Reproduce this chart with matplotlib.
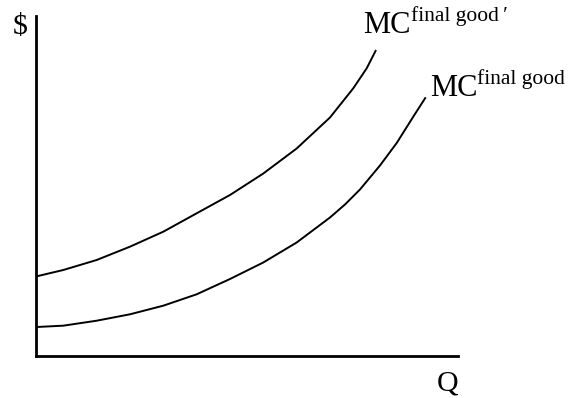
import matplotlib
matplotlib.use('Agg')
import matplotlib.pyplot as plt

# curve points (axes units 0-100)
q_upper = [0.05, 6.36, 14.28, 22.18, 30.08, 38.01, 45.91, 53.81, 61.73, 69.63, 75.16, 78.34, 80.55]
mc_upper = [23.55, 25.40, 28.34, 32.25, 36.65, 42.06, 47.43, 53.74, 61.09, 70.19, 78.77, 84.64, 90.01]

q_lower = [0.05, 6.36, 14.28, 22.18, 30.08, 38.01, 45.91, 53.81, 61.73, 69.63, 73.19, 76.75, 81.49, 85.46, 89.39, 92.34]
mc_lower = [8.66, 9.05, 10.51, 12.39, 14.92, 18.27, 22.76, 27.61, 33.48, 40.82, 44.64, 49.05, 56.09, 62.70, 70.43, 76.12]

serif = ['Liberation Serif', 'DejaVu Serif']

fig = plt.figure(figsize=(5.7, 3.98), dpi=100)
ax = fig.add_axes([0.0640, 0.1043, 0.7395, 0.8555])

ax.plot(q_upper, mc_upper, color='black', lw=1.4, solid_capstyle='butt', solid_joinstyle='round')
ax.plot(q_lower, mc_lower, color='black', lw=1.4, solid_capstyle='butt', solid_joinstyle='round')

ax.set_xlim(0, 100)
ax.set_ylim(0, 100)
for side in ['top', 'right']:
    ax.spines[side].set_visible(False)
for side in ['left', 'bottom']:
    ax.spines[side].set_linewidth(2.0)
ax.set_xticks([])
ax.set_yticks([])

# axis labels
ax.text(-5.6, 94.7, '$', family=serif, fontsize=21.5, ha='left', va='baseline', clip_on=False)
ax.text(95.0, -10.1, 'Q', family=serif, fontsize=21.5, ha='left', va='baseline', clip_on=False)

# curve labels
ax.text(77.4, 95.1, 'MC', family=serif, fontsize=22, ha='left', va='baseline', clip_on=False)
ax.text(88.9, 98.6, 'final good\u2009\u2032', family=serif, fontsize=15.5, ha='left', va='baseline', clip_on=False)
ax.text(93.4, 76.4, 'MC', family=serif, fontsize=22, ha='left', va='baseline', clip_on=False)
ax.text(104.5, 79.9, 'final good', family=serif, fontsize=15.5, ha='left', va='baseline', clip_on=False)

fig.savefig('out.png', dpi=100)
